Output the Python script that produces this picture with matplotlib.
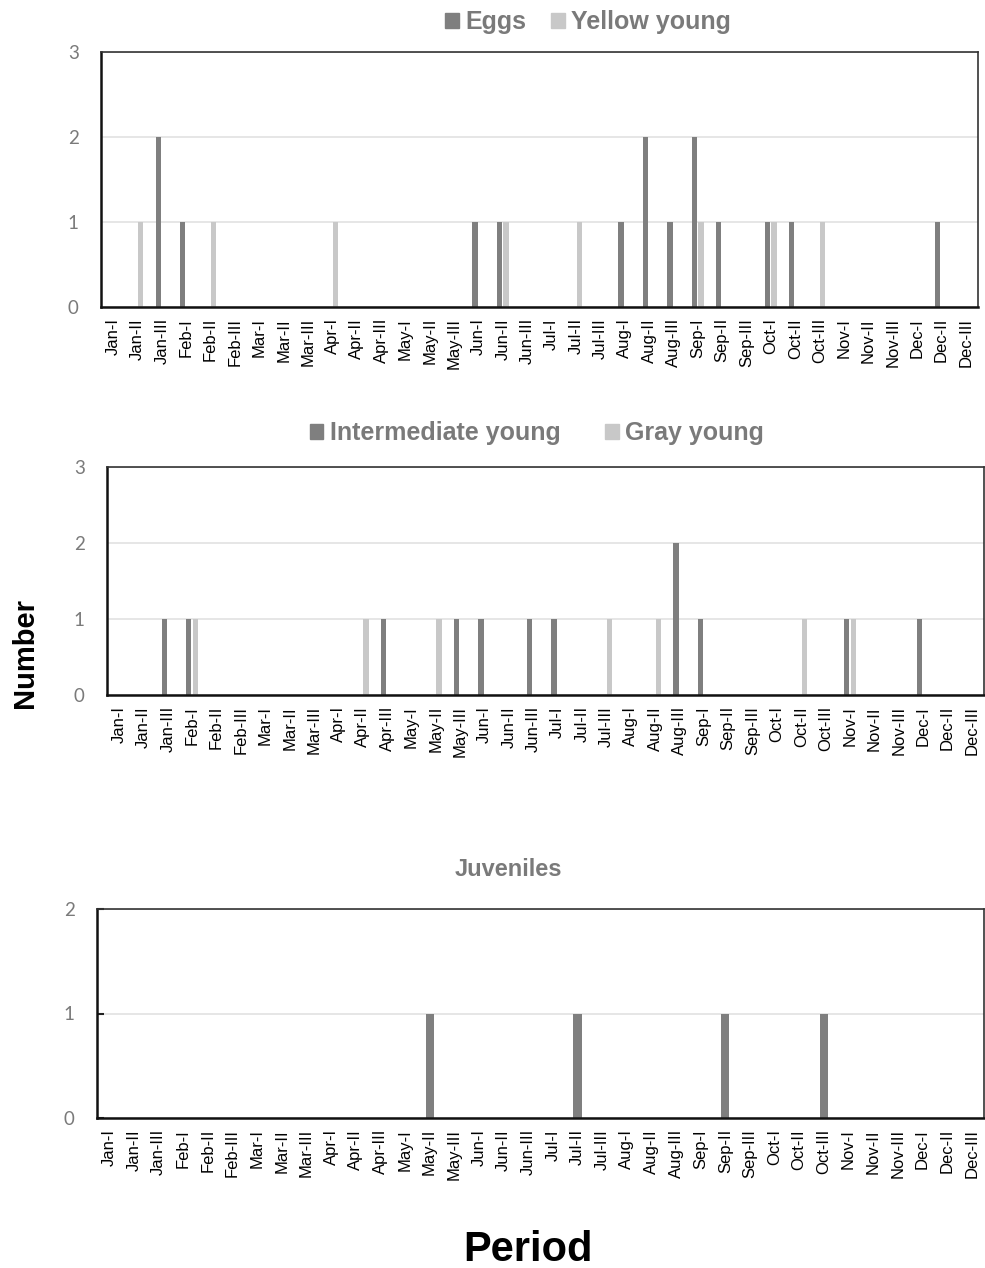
import matplotlib
matplotlib.use('Agg')
import matplotlib.pyplot as plt
import matplotlib.patches as mpatches
import numpy as np

# 10-day periods (I, II, III) for each month
months = ['Jan', 'Feb', 'Mar', 'Apr', 'May', 'Jun', 'Jul', 'Aug', 'Sep', 'Oct', 'Nov', 'Dec']
thirds = ['I', 'II', 'III']
periods = [m + '-' + t for m in months for t in thirds]

#            Jan      Feb      Mar      Apr      May      Jun      Jul      Aug      Sep      Oct      Nov      Dec
eggs =      [0, 0, 2, 1, 0, 0, 0, 0, 0, 0, 0, 0, 0, 0, 0, 1, 1, 0, 0, 0, 0, 1, 2, 1, 2, 1, 0, 1, 1, 0, 0, 0, 0, 0, 1, 0]
yellow =    [0, 1, 0, 0, 1, 0, 0, 0, 0, 1, 0, 0, 0, 0, 0, 0, 1, 0, 0, 1, 0, 0, 0, 0, 1, 0, 0, 1, 0, 1, 0, 0, 0, 0, 0, 0]
intermed =  [0, 0, 1, 1, 0, 0, 0, 0, 0, 0, 0, 1, 0, 0, 1, 1, 0, 1, 1, 0, 0, 0, 0, 2, 1, 0, 0, 0, 0, 0, 1, 0, 0, 1, 0, 0]
gray =      [0, 0, 0, 1, 0, 0, 0, 0, 0, 0, 1, 0, 0, 1, 0, 0, 0, 0, 0, 0, 1, 0, 1, 0, 0, 0, 0, 0, 1, 0, 1, 0, 0, 0, 0, 0]
juveniles = [0, 0, 0, 0, 0, 0, 0, 0, 0, 0, 0, 0, 0, 1, 0, 0, 0, 0, 0, 1, 0, 0, 0, 0, 0, 1, 0, 0, 0, 1, 0, 0, 0, 0, 0, 0]

DARK = '#7f7f7f'
LIGHT = '#c8c8c8'
TXT = '#7a7a7a'

plt.rcParams['font.family'] = ['Liberation Sans', 'DejaVu Sans']

W, H = 985, 1268
fig = plt.figure(figsize=(W / 100, H / 100), dpi=100)


def px_axes(x0, y_top, x1, y_bot):
    return fig.add_axes([x0 / W, 1 - y_bot / H, (x1 - x0) / W, (y_bot - y_top) / H])


def style(ax, ymax):
    x = np.arange(len(periods))
    ax.set_xlim(-0.5, len(periods) - 0.5)
    ax.set_ylim(0, ymax)
    ax.set_yticks(range(ymax + 1))
    ax.set_xticks(x)
    ax.set_xticklabels(periods, rotation=90, fontsize=12, color='black')
    for lab in ax.get_yticklabels():
        lab.set_fontfamily('Lato')
        lab.set_fontsize(13.5)
        lab.set_color(TXT)
    ax.tick_params(axis='x', length=0, pad=8)
    ax.tick_params(axis='y', length=0, pad=16)
    ax.grid(axis='y', color='#e2e2e2', linewidth=1.2)
    ax.set_axisbelow(True)
    for s in ['left', 'bottom']:
        ax.spines[s].set_linewidth(1.8)
        ax.spines[s].set_color('#111111')
    for s in ['top', 'right']:
        ax.spines[s].set_linewidth(1.2)
        ax.spines[s].set_color('#333333')


x = np.arange(len(periods))

# chart 1: eggs / yellow young
ax1 = px_axes(101, 52, 978, 307)
ax1.bar(x - 0.15, eggs, width=0.22, color=DARK)
ax1.bar(x + 0.13, yellow, width=0.22, color=LIGHT)
style(ax1, 3)

# chart 2: intermediate / gray young
ax2 = px_axes(107, 467, 984, 695)
ax2.bar(x - 0.15, intermed, width=0.22, color=DARK)
ax2.bar(x + 0.13, gray, width=0.22, color=LIGHT)
style(ax2, 3)

# chart 3: juveniles
ax3 = px_axes(97, 909, 984, 1118)
ax3.bar(x, juveniles, width=0.33, color=DARK)
style(ax3, 2)
ax3.tick_params(axis='y', length=5, direction='in', width=1.5, color='#222222')

# legends
leg_kw = dict(loc='center', frameon=False, ncol=2, handlelength=0.55, handleheight=0.55,
              handletextpad=0.25, borderaxespad=0, borderpad=0,
              prop={'weight': 'bold', 'size': 18})
l1 = fig.legend([mpatches.Patch(color=DARK), mpatches.Patch(color=LIGHT)],
                ['Eggs', 'Yellow young'], bbox_to_anchor=(588 / W, 1 - 22 / H),
                columnspacing=1.0, labelcolor=TXT, **leg_kw)
l2 = fig.legend([mpatches.Patch(color=DARK), mpatches.Patch(color=LIGHT)],
                ['Intermediate young', 'Gray young'], bbox_to_anchor=(537 / W, 1 - 433 / H),
                columnspacing=1.8, labelcolor=TXT, **leg_kw)

fig.text(508 / W, 1 - 870 / H, 'Juveniles', ha='center', va='center',
         fontsize=17, fontweight='bold', color=TXT)

fig.text(25 / W, 1 - 653 / H, 'Number', ha='center', va='center', rotation=90,
         fontsize=21, fontweight='bold', color='black')
fig.text(528 / W, 1 - 1250 / H, 'Period', ha='center', va='center',
         fontsize=30, fontweight='bold', color='black')

fig.savefig('out.png', dpi=100)
